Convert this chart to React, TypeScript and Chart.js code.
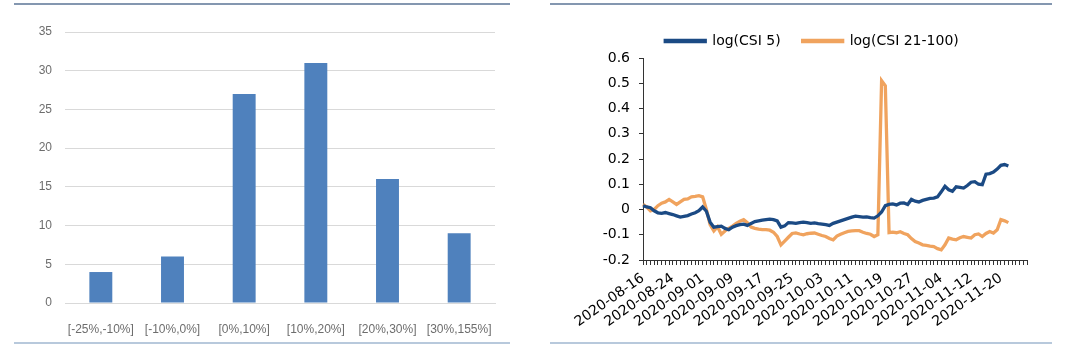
import React, { useEffect, useRef } from "react";
import { Chart, registerables } from "chart.js";

Chart.register(...registerables);

// ---------- Left chart data ----------
const bucketLabels = ["[-25%,-10%]", "[-10%,0%]", "[0%,10%]", "[10%,20%]", "[20%,30%]", "[30%,155%]"];
const bucketCounts = [4, 6, 27, 31, 16, 9];

// ---------- Right chart data ----------
const axisStart = "2020-08-16";
const axisEnd = "2020-11-27";
const shownDates = [
  "2020-08-16", "2020-08-24", "2020-09-01", "2020-09-09", "2020-09-17",
  "2020-09-25", "2020-10-03", "2020-10-11", "2020-10-19", "2020-10-27",
  "2020-11-04", "2020-11-12", "2020-11-20",
];

const csi5 = [
  0.015, 0.01, 0.007, -0.005, -0.013, -0.015, -0.012, -0.016, -0.02, -0.025,
  -0.03, -0.027, -0.024, -0.018, -0.013, -0.005, 0.01, -0.007, -0.05, -0.07,
  -0.068, -0.066, -0.075, -0.08, -0.07, -0.064, -0.06, -0.058, -0.063, -0.055,
  -0.048, -0.045, -0.042, -0.04, -0.038, -0.04, -0.045, -0.07, -0.065, -0.052,
  -0.053, -0.055, -0.052, -0.05, -0.052, -0.055, -0.053, -0.056, -0.058, -0.06,
  -0.063, -0.055, -0.05, -0.045, -0.04, -0.035, -0.03, -0.026, -0.028, -0.03,
  -0.029, -0.032, -0.034, -0.025, -0.01, 0.015, 0.02, 0.022, 0.018, 0.025,
  0.026, 0.02, 0.04, 0.033, 0.03, 0.036, 0.04, 0.044, 0.045, 0.05,
  0.07, 0.092, 0.078, 0.072, 0.09, 0.088, 0.085, 0.095, 0.108, 0.11,
  0.1, 0.098, 0.14, 0.142, 0.148, 0.16, 0.175, 0.178, 0.172,
];

const csi21to100 = [
  0.02, 0.01, -0.005, 0.0, 0.015, 0.025, 0.03, 0.04, 0.03, 0.02,
  0.03, 0.04, 0.042, 0.05, 0.052, 0.055, 0.05, 0.0, -0.06, -0.085,
  -0.068, -0.098, -0.085, -0.075, -0.066, -0.055, -0.046, -0.04, -0.052, -0.07,
  -0.075, -0.078, -0.08, -0.08, -0.082, -0.09, -0.107, -0.14, -0.125, -0.11,
  -0.095, -0.093, -0.097, -0.1, -0.096, -0.094, -0.093, -0.098, -0.103, -0.107,
  -0.115, -0.12, -0.105, -0.098, -0.092, -0.087, -0.085, -0.084, -0.084, -0.09,
  -0.095, -0.098, -0.107, -0.1, 0.51, 0.49, -0.092, -0.09, -0.092, -0.088,
  -0.095, -0.1, -0.115, -0.127, -0.133, -0.14, -0.142, -0.145, -0.147, -0.155,
  -0.16, -0.14, -0.113, -0.117, -0.12, -0.112, -0.107, -0.11, -0.113, -0.1,
  -0.097, -0.107, -0.095, -0.087, -0.093, -0.08, -0.04, -0.045, -0.052,
];

function buildDays(a: string, b: string): string[] {
  const out: string[] = [];
  const d = new Date(a + "T00:00:00Z");
  const e = new Date(b + "T00:00:00Z");
  while (d.getTime() <= e.getTime()) {
    out.push(d.toISOString().slice(0, 10));
    d.setUTCDate(d.getUTCDate() + 1);
  }
  return out;
}

function BarChart() {
  const ref = useRef<HTMLCanvasElement | null>(null);
  useEffect(() => {
    if (!ref.current) return;
    const chart = new Chart(ref.current, {
      type: "bar",
      data: {
        labels: bucketLabels,
        datasets: [
          {
            data: bucketCounts,
            backgroundColor: "#4f81bd",
            borderWidth: 0,
            categoryPercentage: 1,
            barPercentage: 0.32,
          },
        ],
      },
      options: {
        responsive: false,
        animation: false,
        layout: { padding: { left: 0, right: 45, top: 32, bottom: 0 } },
        plugins: { legend: { display: false }, tooltip: { enabled: false } },
        scales: {
          x: {
            grid: { display: false },
            border: { display: true, color: "#d9d9d9" },
            ticks: {
              color: "#6d6d6d",
              font: { family: "Liberation Sans", size: 12 },
              maxRotation: 0,
              minRotation: 0,
              padding: 11,
            },
            afterFit: (s: any) => {
              s.height = 46;
            },
          },
          y: {
            min: 0,
            max: 35,
            ticks: {
              stepSize: 5,
              color: "#6d6d6d",
              font: { family: "Liberation Sans", size: 12 },
              padding: 13,
            },
            grid: { color: "#d9d9d9", drawTicks: false },
            border: { display: false },
            afterFit: (s: any) => {
              s.width = 65;
            },
          },
        },
      },
    });
    return () => chart.destroy();
  }, []);
  return <canvas ref={ref} width={540} height={349} style={{ display: "block" }} />;
}

function LineChart() {
  const ref = useRef<HTMLCanvasElement | null>(null);
  useEffect(() => {
    if (!ref.current) return;
    const days = buildDays(axisStart, axisEnd);
    const chart = new Chart(ref.current, {
      type: "line",
      data: {
        labels: days,
        datasets: [
          {
            label: "log(CSI 5)",
            data: csi5,
            borderColor: "#1b4a84",
            backgroundColor: "#1b4a84",
            borderWidth: 3.3,
            pointRadius: 0,
            tension: 0,
          },
          {
            label: "log(CSI 21-100)",
            data: csi21to100,
            borderColor: "#f0a35e",
            backgroundColor: "#f0a35e",
            borderWidth: 3.3,
            pointRadius: 0,
            tension: 0,
          },
        ],
      },
      options: {
        responsive: false,
        animation: false,
        layout: { padding: { left: 57, right: 53, top: 12, bottom: 0 } },
        plugins: {
          tooltip: { enabled: false },
          legend: {
            display: true,
            position: "top",
            labels: {
              boxWidth: 40,
              boxHeight: 1,
              padding: 22,
              color: "#000",
              font: { family: "DejaVu Sans", size: 14 },
            },
          },
        },
        scales: {
          x: {
            grid: {
              display: true,
              drawOnChartArea: false,
              drawTicks: true,
              tickLength: 5,
              color: "#333",
            },
            border: { display: true, color: "#333", width: 1 },
            ticks: {
              autoSkip: false,
              maxRotation: 35,
              minRotation: 35,
              padding: 5,
              color: "#000",
              font: { family: "DejaVu Sans", size: 14 },
              callback: function (this: any, _v: any, i: number) {
                const lab = days[i];
                return shownDates.includes(lab) ? lab : "";
              },
            },
            afterFit: (s: any) => {
              s.height = 89;
            },
          },
          y: {
            min: -0.2,
            max: 0.6,
            ticks: {
              stepSize: 0.1,
              color: "#000",
              padding: 9,
              font: { family: "DejaVu Sans", size: 14 },
              callback: (v: any) => String(Number(Number(v).toFixed(1))),
            },
            grid: {
              display: true,
              drawOnChartArea: false,
              drawTicks: true,
              tickLength: 4,
              color: "#333",
            },
            border: { display: true, color: "#333", width: 1 },
            afterFit: (s: any) => {
              s.width = 46;
            },
          },
        },
      },
    });
    return () => chart.destroy();
  }, []);
  return <canvas ref={ref} width={540} height={349} style={{ display: "block" }} />;
}

export default function App() {
  useEffect(() => {
    document.body.style.margin = "0";
  }, []);
  const line = (left: number, top: number, width: number, color: string, h: number) => (
    <div
      style={{
        position: "absolute",
        left,
        top,
        width,
        height: h,
        background: color,
      }}
    />
  );
  return (
    <div style={{ position: "relative", width: 1080, height: 349, background: "#fff", overflow: "hidden" }}>
      <div style={{ position: "absolute", left: 0, top: 0 }}>
        <BarChart />
      </div>
      <div style={{ position: "absolute", left: 540, top: 0 }}>
        <LineChart />
      </div>
      {line(14, 3, 496, "#8497b0", 2)}
      {line(550, 3, 502, "#8497b0", 2)}
      {line(14, 342, 496, "#b8c9dc", 2)}
      {line(550, 342, 502, "#b8c9dc", 2)}
    </div>
  );
}
